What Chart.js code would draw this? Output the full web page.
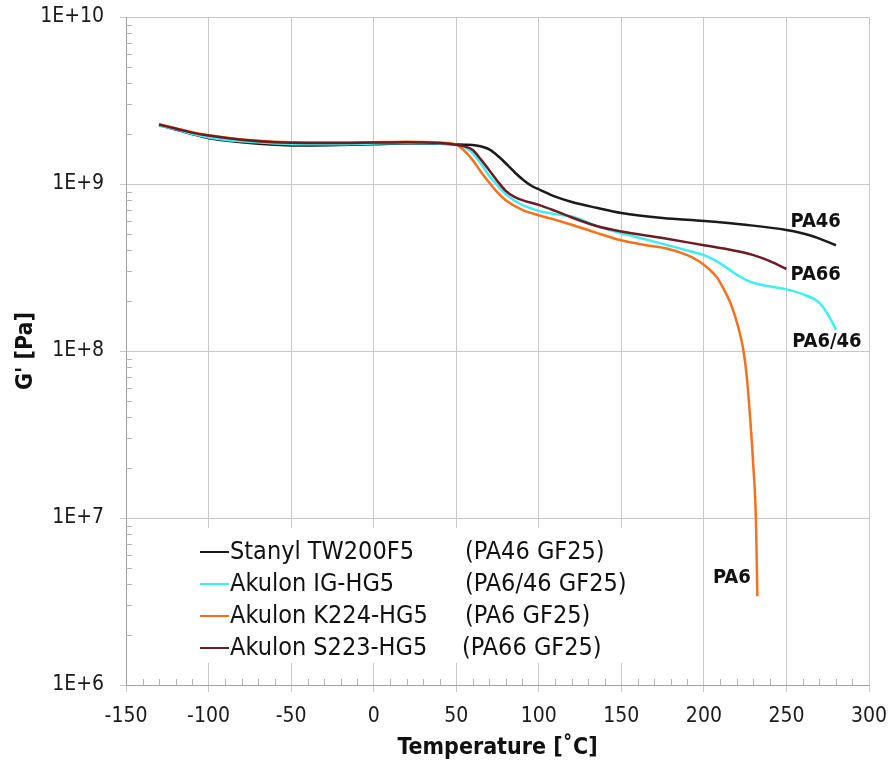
<!DOCTYPE html>
<html>
<head>
<meta charset="utf-8">
<script src="https://cdn.jsdelivr.net/npm/chart.js@4.4.1/dist/chart.umd.min.js"></script>
<style>
  body { margin: 0; background: #fff; }
  canvas { display: block; }
</style>
</head>
<body>
<canvas id="modulusChart" width="893" height="762"></canvas>
<script>
// materials (legend)
const materials = ['Stanyl TW200F5', 'Akulon IG-HG5', 'Akulon K224-HG5', 'Akulon S223-HG5'];
const grades = ['(PA46 GF25)', '(PA6/46 GF25)', '(PA6 GF25)', '(PA66 GF25)'];

// PA46 - Stanyl TW200F5
const tempPA46 = [-130, -120, -110, -100, -80, -60, -40, -20, 0, 20, 40, 55, 62, 70, 76, 81, 86, 91, 96, 101, 110, 120, 135, 150, 175, 200, 225, 250, 265, 280];
const gPA46 = [2.25e9, 2.12e9, 1.99e9, 1.88e9, 1.78e9, 1.72e9, 1.70e9, 1.71e9, 1.73e9, 1.75e9, 1.74e9, 1.72e9, 1.70e9, 1.61e9, 1.45e9, 1.30e9, 1.16e9, 1.05e9, 9.7e8, 9.2e8, 8.4e8, 7.8e8, 7.2e8, 6.7e8, 6.25e8, 6.0e8, 5.7e8, 5.3e8, 4.9e8, 4.3e8];

// PA6/46 - Akulon IG-HG5
const tempPA646 = [-130, -120, -110, -100, -80, -60, -40, -20, 0, 20, 40, 50, 55, 60, 65, 70, 75, 80, 85, 90, 100, 110, 120, 135, 150, 165, 178, 190, 200, 210, 218, 226, 234, 250, 262, 270, 276, 280];
const gPA646 = [2.25e9, 2.13e9, 2.0e9, 1.90e9, 1.80e9, 1.75e9, 1.73e9, 1.73e9, 1.75e9, 1.76e9, 1.75e9, 1.72e9, 1.66e9, 1.53e9, 1.32e9, 1.12e9, 9.8e8, 8.7e8, 8.0e8, 7.5e8, 6.9e8, 6.6e8, 6.4e8, 5.6e8, 5.07e8, 4.65e8, 4.3e8, 4.0e8, 3.75e8, 3.35e8, 2.95e8, 2.65e8, 2.5e8, 2.34e8, 2.15e8, 1.94e8, 1.6e8, 1.34e8];

// PA6 - Akulon K224-HG5
const tempPA6 = [-130, -120, -110, -100, -80, -60, -40, -20, 0, 20, 40, 50, 55, 60, 65, 70, 75, 80, 90, 100, 110, 115, 120, 135, 150, 165, 178, 190, 197, 203, 208, 212, 216, 219, 222, 224, 226, 228, 230, 231.5, 232.4];
const gPA6 = [2.28e9, 2.16e9, 2.04e9, 1.96e9, 1.85e9, 1.79e9, 1.77e9, 1.77e9, 1.78e9, 1.79e9, 1.77e9, 1.72e9, 1.58e9, 1.39e9, 1.18e9, 1.02e9, 8.9e8, 8.0e8, 7.0e8, 6.5e8, 6.1e8, 5.9e8, 5.7e8, 5.1e8, 4.6e8, 4.3e8, 4.1e8, 3.75e8, 3.45e8, 3.1e8, 2.75e8, 2.35e8, 1.95e8, 1.6e8, 1.25e8, 1.0e8, 7.0e7, 4.0e7, 2.0e7, 1.0e7, 3.4e6];

// PA66 - Akulon S223-HG5
const tempPA66 = [-130, -120, -110, -100, -80, -60, -40, -20, 0, 20, 40, 50, 55, 60, 65, 70, 75, 80, 85, 90, 100, 110, 120, 135, 150, 175, 200, 215, 230, 240, 250];
const gPA66 = [2.27e9, 2.15e9, 2.03e9, 1.95e9, 1.84e9, 1.78e9, 1.76e9, 1.76e9, 1.77e9, 1.78e9, 1.76e9, 1.72e9, 1.68e9, 1.60e9, 1.40e9, 1.21e9, 1.04e9, 9.1e8, 8.4e8, 8.0e8, 7.5e8, 6.9e8, 6.3e8, 5.6e8, 5.2e8, 4.75e8, 4.3e8, 4.05e8, 3.75e8, 3.45e8, 3.1e8];

// axis ticks
const xTicks = [-150, -100, -50, 0, 50, 100, 150, 200, 250, 300];
const yTicks = [1e6, 1e7, 1e8, 1e9, 1e10];

const FONT = '"DejaVu Sans Condensed", "DejaVu Sans", sans-serif';
Chart.defaults.font.family = FONT;
Chart.defaults.color = '#1a1a1a';

function toPoints(xs, ys) {
    return xs.map(function (x, i) { return { x: x, y: ys[i] }; });
}

// drop the automatic label overhang padding so the plot area is fixed by layout.padding
function noOverhang(s) {
    s.paddingTop = 0;
    s.paddingBottom = 0;
    s.paddingLeft = 0;
    s.paddingRight = 0;
}

// end-of-curve labels, anchored in data units
const curveLabels = [
    { text: 'PA46', x: 252.5, y: 5.9e8 },
    { text: 'PA66', x: 252.5, y: 2.85e8 },
    { text: 'PA6/46', x: 253.5, y: 1.13e8 },
    { text: 'PA6', x: 205.5, y: 4.4e6 }
];

const decorations = {
    id: 'decorations',
    beforeDatasetsDraw: function (chart) {
        const ctx = chart.ctx;
        const xs = chart.scales.x, ys = chart.scales.y;
        const area = chart.chartArea;
        ctx.save();
        // minor tick marks (inside the plot)
        ctx.strokeStyle = '#b4b4b4';
        ctx.lineWidth = 1;
        ctx.beginPath();
        for (let t = -140; t < 300; t += 10) {
            if (t % 50 === 0) continue;
            const px = Math.round(xs.getPixelForValue(t)) + 0.5;
            ctx.moveTo(px, area.bottom);
            ctx.lineTo(px, area.bottom - 6);
        }
        for (let d = 6; d < 10; d++) {
            for (let m = 2; m < 10; m++) {
                const py = Math.round(ys.getPixelForValue(m * Math.pow(10, d))) + 0.5;
                ctx.moveTo(area.left, py);
                ctx.lineTo(area.left + 6, py);
            }
        }
        ctx.stroke();
        // legend box
        ctx.fillStyle = '#fff';
        ctx.fillRect(195, 528, 446, 135);
        ctx.font = '25px ' + FONT;
        ctx.textBaseline = 'middle';
        ctx.fillStyle = '#111';
        chart.data.datasets.forEach(function (ds, i) {
            const y = 552 + i * 32;
            ctx.strokeStyle = ds.borderColor;
            ctx.lineWidth = 2;
            ctx.beginPath();
            ctx.moveTo(200, y);
            ctx.lineTo(229, y);
            ctx.stroke();
            ctx.fillText(ds.label, 230, y);
            ctx.fillText(grades[i], i === 3 ? 462 : 465, y);
        });
        ctx.restore();
    },
    afterDatasetsDraw: function (chart) {
        const ctx = chart.ctx;
        const xs = chart.scales.x, ys = chart.scales.y;
        ctx.save();
        ctx.font = 'bold 20px ' + FONT;
        ctx.fillStyle = '#111';
        ctx.textBaseline = 'middle';
        curveLabels.forEach(function (l) {
            ctx.fillText(l.text, xs.getPixelForValue(l.x), ys.getPixelForValue(l.y));
        });
        ctx.restore();
    }
};

const colors = ['#1a1a1a', '#3cf0f0', '#f5711e', '#6e1a22'];
const series = [
    toPoints(tempPA46, gPA46),
    toPoints(tempPA646, gPA646),
    toPoints(tempPA6, gPA6),
    toPoints(tempPA66, gPA66)
];
const drawOrder = [3, 2, 1, 0];

const ctx = document.getElementById('modulusChart').getContext('2d');
const modulusChart = new Chart(ctx, {
    type: 'line',
    data: {
        datasets: series.map(function (pts, i) {
            return {
                label: materials[i],
                data: pts,
                borderColor: colors[i],
                backgroundColor: colors[i],
                borderWidth: 2.5,
                pointRadius: 0,
                cubicInterpolationMode: 'monotone',
                order: drawOrder[i]
            };
        })
    },
    options: {
        responsive: false,
        animation: false,
        layout: { padding: { top: 17, right: 24, left: 0, bottom: 0 } },
        plugins: {
            legend: { display: false },
            tooltip: { enabled: false }
        },
        scales: {
            x: {
                type: 'linear',
                min: -150,
                max: 300,
                afterBuildTicks: function (s) { s.ticks = xTicks.map(function (v) { return { value: v }; }); },
                afterFit: function (s) { s.height = 77; noOverhang(s); },
                ticks: { font: { size: 21 }, color: '#1a1a1a', padding: 12, maxRotation: 0 },
                grid: { color: '#c8c8c8', tickLength: 7 },
                border: { color: '#a0a0a0' },
                title: {
                    display: true,
                    text: 'Temperature [˚C]',
                    font: { size: 23, weight: 'bold' },
                    color: '#111',
                    padding: { top: 0, bottom: 0 }
                }
            },
            y: {
                type: 'logarithmic',
                min: 1e6,
                max: 1e10,
                afterBuildTicks: function (s) { s.ticks = yTicks.map(function (v) { return { value: v }; }); },
                afterFit: function (s) { s.width = 126; noOverhang(s); },
                ticks: {
                    font: { size: 21 },
                    color: '#1a1a1a',
                    padding: 16,
                    callback: function (v) { return '1E+' + Math.round(Math.log10(v)); }
                },
                grid: { color: '#c8c8c8', tickLength: 6 },
                border: { color: '#a0a0a0' },
                title: {
                    display: true,
                    text: "G' [Pa]",
                    font: { size: 23, weight: 'bold' },
                    color: '#111',
                    padding: { top: 12, bottom: 0 }
                }
            }
        }
    },
    plugins: [decorations]
});
</script>
</body>
</html>
